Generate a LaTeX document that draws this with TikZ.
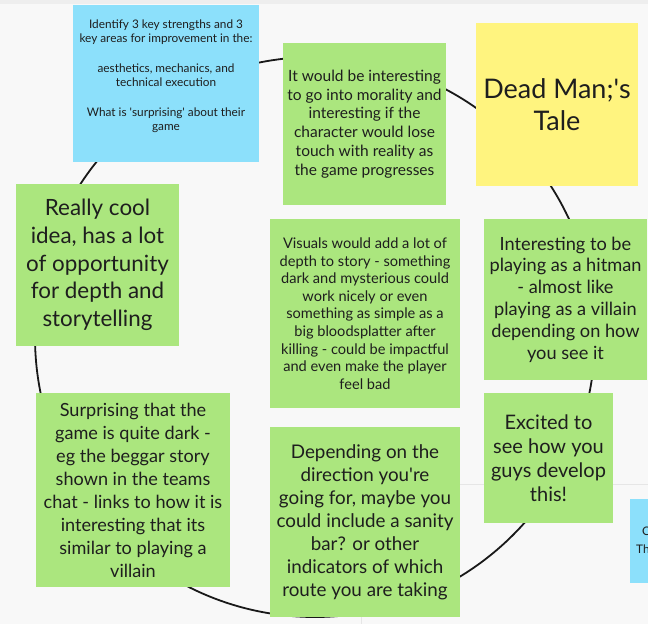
\documentclass[tikz,border=0pt]{standalone}
\usepackage{fontspec}
\setmainfont{Lato}
\definecolor{boardbg}{HTML}{F8F8F8}
\definecolor{boardtop}{HTML}{EEEEEE}
\definecolor{gridline}{HTML}{E6E6E6}
\definecolor{notegreen}{HTML}{ABE67E}
\definecolor{noteblue}{HTML}{8CE0FB}
\definecolor{noteyellow}{HTML}{FFF47F}
\definecolor{ink}{HTML}{1E1E1E}
\newcommand\notefont[2]{\fontsize{#1}{#2}\selectfont}
\newcommand\sq{\textquotesingle}
\tikzset{
  note/.style={fill=#1, draw=none, inner sep=0pt, align=center, text=ink},
  loop/.style={draw=black!90, line width=1.8pt},
}
\begin{document}
\begin{tikzpicture}[x=1pt, y=-1pt]
  \useasboundingbox (0,0) rectangle (648,624);
  \fill[boardbg] (0,0) rectangle (648,624);
  \fill[boardtop] (0,0) rectangle (648,4);
  \draw[gridline, line width=1pt] (440,484) -- (648,484);
  \draw[gridline, line width=1pt] (361,617) -- (361,624);

  % the ring that links all the notes
  \draw[loop] (315,337) circle[radius=280];

  % brief
  \node[note=noteblue, minimum width=186, minimum height=157] (brief) at (166,83.5) {};
  \node[align=center, text=ink, inner sep=0pt, font=\notefont{11.8}{14}] (briefText) at (166,76)
    {Identify 3 key strengths and 3\\key areas for improvement in the:\\[16pt]
     aesthetics, mechanics, and\\technical execution\\[16pt]
     What is \sq surprising\sq{} about their\\game};

  % title
  \node[note=noteyellow, minimum width=162, minimum height=163, font=\notefont{27}{32}] (title) at (557,104.5)
    {Dead Man;\sq s\\Tale};

  % comments
  \node[note=notegreen, minimum width=163, minimum height=162, font=\notefont{15.5}{18.7}] (morality) at (364.5,124)
    {It would be interesting\\to go into morality and\\interesting if the\\character would lose\\touch with reality as\\the game progresses};

  \node[note=notegreen, minimum width=163, minimum height=162, font=\notefont{22.4}{27.7}] (cool) at (97.5,265)
    {Really cool\\idea, has a lot\\of opportunity\\for depth and\\storytelling};

  \node[note=notegreen, minimum width=190, minimum height=189, font=\notefont{14.6}{17.6}] (visuals) at (365,313.5)
    {Visuals would add a lot of\\depth to story - something\\dark and mysterious could\\work nicely or even\\something as simple as a\\big bloodsplatter after\\killing - could be impactful\\and even make the player\\feel bad};

  \node[note=notegreen, minimum width=163, minimum height=161, font=\notefont{18.2}{21.8}] (hitman) at (565.5,299.5)
    {Interesting to be\\playing as a hitman\\- almost like\\playing as a villain\\depending on how\\you see it};

  \node[note=notegreen, minimum width=194, minimum height=194, font=\notefont{18.1}{23}] (surprising) at (133,490)
    {Surprising that the\\game is quite dark -\\eg the beggar story\\shown in the teams\\chat - links to how it is\\interesting that its\\similar to playing a\\villain};

  \node[note=notegreen, minimum width=190, minimum height=190, font=\notefont{18.8}{23}] (sanity) at (365,522)
    {Depending on the\\direction you\sq re\\going for, maybe you\\could include a sanity\\bar? or other\\indicators of which\\route you are taking};

  \node[note=notegreen, minimum width=129, minimum height=130, font=\notefont{20}{24}] (excited) at (548.5,458)
    {Excited to\\see how you\\guys develop\\this!};

  % next note, running past the right edge
  \begin{scope}
    \clip (0,0) rectangle (648,624);
    \node[note=noteblue, minimum width=40, minimum height=84, anchor=north west] (nextNote) at (630,499) {};
    \node[text=ink, inner sep=0pt, anchor=base west, font=\notefont{11.8}{14}] (nextC) at (642,535) {C};
    \node[text=ink, inner sep=0pt, anchor=base west, font=\notefont{11.8}{14}] (nextTh) at (636,553) {Th};
  \end{scope}
\end{tikzpicture}
\end{document}
